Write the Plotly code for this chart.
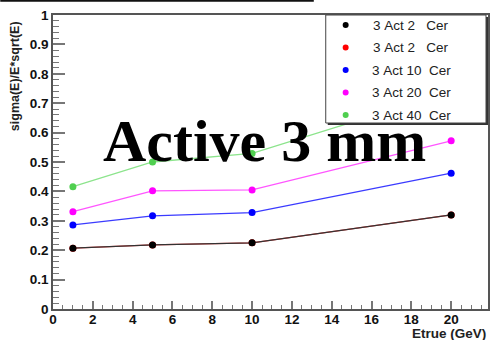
import plotly.graph_objects as go

# Beam energies (GeV) and resolution values per configuration
energy = [1, 5, 10, 20]
series_names = ["3 Act 2   Cer", "3 Act 2   Cer", "3 Act 10  Cer", "3 Act 20  Cer", "3 Act 40  Cer"]
res_act2_red = [0.207, 0.218, 0.225, 0.320]
res_act2 = [0.207, 0.218, 0.225, 0.320]
res_act10 = [0.286, 0.317, 0.328, 0.462]
res_act20 = [0.331, 0.402, 0.405, 0.572]
res_act40 = [0.416, 0.500, 0.529, 0.740]

marker_colors = ["#ff0000", "#000000", "#0000ff", "#ff00ff", "#4fcf4f"]
line_colors = ["#ff4444", "#333333", "#3b3bff", "#ff55ff", "#8ce48c"]
series_values = [res_act2_red, res_act2, res_act10, res_act20, res_act40]

W, H = 492, 340
L, R, T, B = 53, 2, 15, 31
PW, PH = W - L - R, H - T - B
X_MAX = 21.85


def px_x(p):
    return (p - L) / PW


def px_y(p):
    return (H - B - p) / PH


fig = go.Figure()
for vals, mc, lc in zip(series_values, marker_colors, line_colors):
    fig.add_trace(go.Scatter(
        x=energy, y=vals, mode="lines+markers",
        line=dict(color=lc, width=1.3),
        marker=dict(color=mc, size=7),
        showlegend=False, hoverinfo="skip",
    ))

shapes = []
annotations = []

# Legend box with drop shadow
lx0, lx1, ly0, ly1 = 327, 488, 15, 123
shapes.append(dict(type="rect", xref="paper", yref="paper",
                   x0=px_x(lx0 + 2), x1=px_x(lx1 + 2), y0=px_y(ly1 + 2), y1=px_y(ly0 + 2),
                   fillcolor="#333333", line=dict(width=0), layer="above"))
shapes.append(dict(type="rect", xref="paper", yref="paper",
                   x0=px_x(lx0), x1=px_x(lx1), y0=px_y(ly1), y1=px_y(ly0),
                   fillcolor="white", line=dict(color="#444444", width=1), layer="above"))

legend_order = [1, 0, 2, 3, 4]
entry_y = [25, 47.5, 70, 92.5, 115]
for ey, idx in zip(entry_y, legend_order):
    shapes.append(dict(type="circle", xref="paper", yref="paper",
                       xsizemode="pixel", ysizemode="pixel",
                       xanchor=px_x(347), yanchor=px_y(ey),
                       x0=-3, x1=3, y0=-3, y1=3,
                       fillcolor=marker_colors[idx], line=dict(width=0), layer="above"))
    annotations.append(dict(
        x=px_x(413), y=px_y(ey), xref="paper", yref="paper",
        text=series_names[idx].replace(" ", "\u00a0"), showarrow=False,
        xanchor="center", yanchor="middle",
        font=dict(family="Liberation Sans", size=13.5, color="#222222"),
    ))

# Heavy line along the upper edge
shapes.append(dict(type="line", xref="paper", yref="paper",
                   x0=px_x(0), x1=px_x(315), y0=px_y(0.8), y1=px_y(0.8),
                   line=dict(color="#111111", width=2)))

annotations.append(dict(
    x=10.6, y=0.571, xref="x", yref="y", text="<b>Active 3 mm</b>",
    showarrow=False, xanchor="center", yanchor="middle",
    font=dict(family="Liberation Serif", size=60, color="black"),
))

annotations.append(dict(
    x=px_x(15), y=px_y(76), xref="paper", yref="paper",
    text="<b>sigma(E)/E*sqrt(E)</b>", textangle=-90, showarrow=False,
    xanchor="center", yanchor="middle",
    font=dict(family="Liberation Sans", size=12.5, color="#222222"),
))
annotations.append(dict(
    x=px_x(490), y=px_y(333), xref="paper", yref="paper",
    text="<b>Etrue (GeV)</b>", showarrow=False,
    xanchor="right", yanchor="middle",
    font=dict(family="Liberation Sans", size=13.5, color="#222222"),
))

axis_common = dict(
    showgrid=False, zeroline=False, showline=True, mirror=True,
    linecolor="#555555", linewidth=1.5,
    ticks="inside", tickcolor="#777777", tickwidth=1.5,
    tickfont=dict(family="Liberation Sans", size=13.5, color="#111111", weight="bold"),
)

fig.update_layout(
    width=W, height=H,
    margin=dict(l=L, r=R, t=T, b=B),
    paper_bgcolor="white", plot_bgcolor="white",
    showlegend=False,
    xaxis=dict(range=[0, X_MAX], dtick=2, tick0=0, ticklen=8, ticklabelstandoff=-3,
               minor=dict(dtick=0.5, ticks="inside", ticklen=4, tickcolor="#777777", tickwidth=1.2),
               **axis_common),
    yaxis=dict(range=[0, 1], dtick=0.1, tick0=0, ticklen=12,
               minor=dict(dtick=0.02, ticks="inside", ticklen=6, tickcolor="#777777", tickwidth=1.2),
               **axis_common),
    shapes=shapes,
    annotations=annotations,
)

fig.write_html("out.html")
